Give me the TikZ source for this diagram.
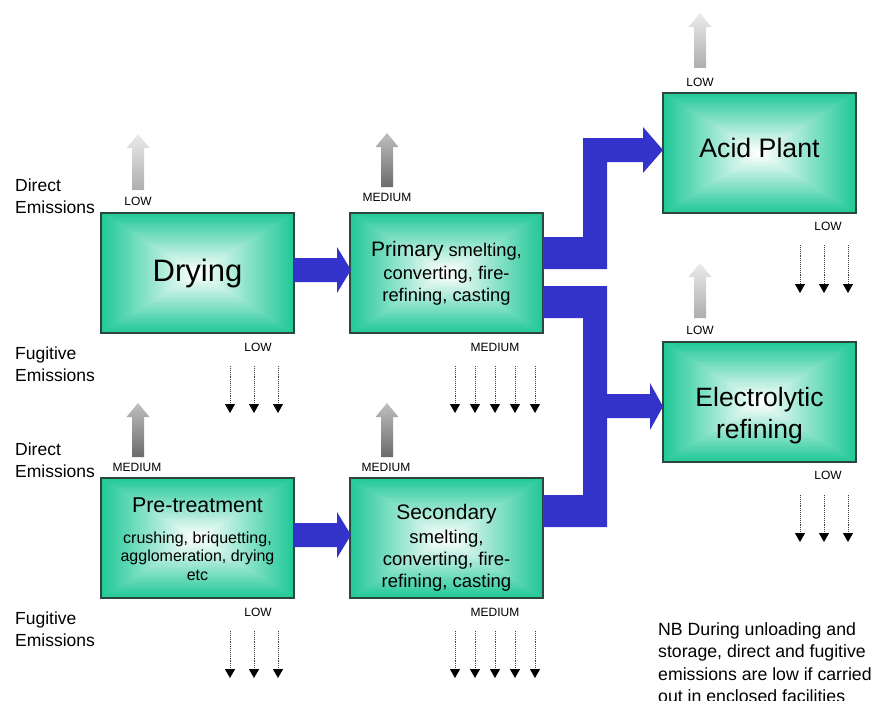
\documentclass[tikz,border=0pt]{standalone}
\usepackage{fontspec}
\setmainfont{Liberation Sans}
\usetikzlibrary{arrows.meta,calc}

\definecolor{boxgreen}{RGB}{32,200,150}
\definecolor{boxline}{RGB}{45,70,62}
\definecolor{flowblue}{RGB}{51,51,204}

\newcommand\fsz[2]{\fontsize{#1}{#2}\selectfont}

% upward emission arrow: x, tip y, tail y, style
\newcommand\emitarrow[4]{%
  \path[#4] (#1-6,#3) -- (#1-6,#2+14) -- (#1-11.5,#2+14) -- (#1,#2)
    -- (#1+11.5,#2+14) -- (#1+6,#2+14) -- (#1+6,#3) -- cycle;}

\tikzset{
  stagebox/.style={draw=boxline, line width=1.2pt, minimum width=193pt,
    minimum height=120pt, inner sep=0pt,
    path picture={
      \foreach \i in {0,...,47}{
        \pgfmathsetmacro\t{\i/96}
        \pgfmathtruncatemacro\p{100-\i*100/47}
        \fill[boxgreen!\p!white]
          ($(path picture bounding box.south west)!\t!(path picture bounding box.north east)$)
          rectangle
          ($(path picture bounding box.north east)!\t!(path picture bounding box.south west)$);
      }}},
  boxtext/.style={align=center, inner sep=0pt, text=black},
  level/.style={font=\fsz{12}{14}, inner sep=0pt},
  sidelabel/.style={font=\fsz{17.5}{21.5}, align=left, anchor=west, inner sep=0pt},
  lowarrow/.style={top color=black!8, bottom color=black!32},
  medarrow/.style={top color=black!25, bottom color=black!58},
  fugarrow/.style={densely dotted, line width=0.9pt, draw=black!75,
    -{Triangle[width=10pt,length=9pt,color=black]}},
  flow/.style={fill=flowblue}
}

\begin{document}
\begin{tikzpicture}[x=1pt,y=-1pt]
\useasboundingbox (0,0) rectangle (884,701);

% process stages
\node[stagebox] (dry)  at (197.5,273) {};
\node[stagebox] (prim) at (446.5,273) {};
\node[stagebox] (pre)  at (197.5,538) {};
\node[stagebox] (sec)  at (446.5,538) {};
\node[stagebox] (acid) at (759.5,153) {};
\node[stagebox] (elec) at (759.5,402) {};

\node[boxtext, font=\fsz{31}{36}] (drytxt) at (dry.center) {Drying};
\node[boxtext, font=\fsz{26.7}{32}, yshift=5.5pt] (acidtxt) at (acid.center) {Acid Plant};
\node[boxtext, font=\fsz{26.5}{32}, yshift=-14pt] (electxt) at (elec.center) {Electrolytic\\refining};
\node[boxtext, font=\fsz{18.3}{21.5}] (primtxt) at (prim.center)
  {{\fsz{21}{21.5}Primary} smelting,\\[2pt]converting, fire-\\refining, casting};
\node[boxtext, font=\fsz{18.5}{22.3}, yshift=-10pt] (sectxt) at (sec.center)
  {{\fsz{21}{22.3}Secondary}\\[1.5pt]smelting,\\converting, fire-\\refining, casting};
\node[boxtext, font=\fsz{16}{18.5}, yshift=-1pt] (pretxt) at (pre.center)
  {{\fsz{21.4}{18.5}Pre-treatment}\\[12pt]crushing, briquetting,\\agglomeration, drying\\etc};

% material flow
\path[flow] (294,258) -- (337,258) -- (337,247) -- (351,270) -- (337,293)
  -- (337,282) -- (294,282) -- cycle;
\path[flow] (294,523) -- (337,523) -- (337,512) -- (351,535) -- (337,558)
  -- (337,547) -- (294,547) -- cycle;
\path[flow] (543,237) -- (583,237) -- (583,138) -- (643,138) -- (643,127)
  -- (663,150) -- (643,173) -- (643,162) -- (607,162) -- (607,269)
  -- (543,269) -- cycle;
\path[flow] (543,286) -- (607,286) -- (607,527) -- (543,527) -- (543,495)
  -- (583,495) -- (583,318) -- (543,318) -- cycle;
\path[flow] (607,394) -- (650,394) -- (650,383) -- (663,406.5) -- (650,430)
  -- (650,418) -- (607,418) -- cycle;

% direct emissions
\emitarrow{138}{134}{190}{lowarrow}
\emitarrow{387}{133}{187}{medarrow}
\emitarrow{700}{13}{68}{lowarrow}
\emitarrow{700}{263}{318}{lowarrow}
\emitarrow{138}{403}{457}{medarrow}
\emitarrow{387}{403}{457}{medarrow}

\node[level] (ldry)  at (138,201) {LOW};
\node[level] (lprim) at (387,197) {MEDIUM};
\node[level] (lacid) at (700,82)  {LOW};
\node[level] (lelec) at (700,330) {LOW};
\node[level] (lpre)  at (137,467) {MEDIUM};
\node[level] (lsec)  at (386,467) {MEDIUM};

% fugitive emissions
\node[level] (fdry)  at (258,347) {LOW};
\node[level] (fprim) at (495,347) {MEDIUM};
\node[level] (facid) at (828,226) {LOW};
\node[level] (felec) at (828,475) {LOW};
\node[level] (fpre)  at (258,612) {LOW};
\node[level] (fsec)  at (495,612) {MEDIUM};

\foreach \x in {230,254,278} \draw[fugarrow] (\x,366) -- (\x,413);
\foreach \x in {455,475,495,515,535} \draw[fugarrow] (\x,366) -- (\x,413);
\foreach \x in {800,824,848} \draw[fugarrow] (\x,245) -- (\x,293);
\foreach \x in {800,824,848} \draw[fugarrow] (\x,495) -- (\x,542);
\foreach \x in {230,254,278} \draw[fugarrow] (\x,631) -- (\x,678);
\foreach \x in {455,475,495,515,535} \draw[fugarrow] (\x,631) -- (\x,678);

% row labels
\node[sidelabel] (d1) at (15,196) {Direct\\Emissions};
\node[sidelabel] (f1) at (15,364) {Fugitive\\Emissions};
\node[sidelabel] (d2) at (15,460) {Direct\\Emissions};
\node[sidelabel] (f2) at (15,629) {Fugitive\\Emissions};

% note
\node[font=\fsz{17.7}{22.3}, align=left, anchor=north west, inner sep=0pt] (note)
  at (658,622.5) {NB During unloading and\\storage, direct and fugitive\\emissions are low if carried\\out in enclosed facilities};
\end{tikzpicture}
\end{document}
